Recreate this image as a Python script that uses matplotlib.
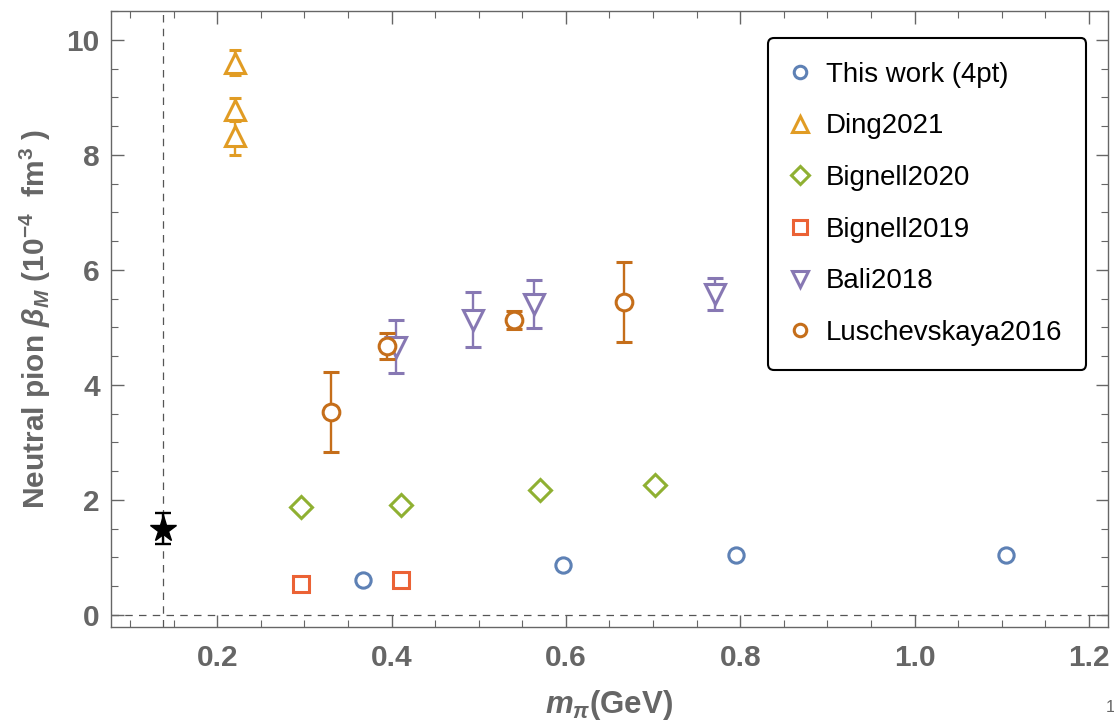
import numpy as np
import matplotlib
matplotlib.use('Agg')
import matplotlib.pyplot as plt
from matplotlib.lines import Line2D
from matplotlib.ticker import MultipleLocator

plt.rcParams['font.family'] = ['Liberation Sans', 'DejaVu Sans']
plt.rcParams['mathtext.fontset'] = 'custom'
plt.rcParams['mathtext.rm'] = 'Liberation Sans:bold'
plt.rcParams['mathtext.it'] = 'Liberation Sans:italic:bold'
plt.rcParams['mathtext.bf'] = 'Liberation Sans:bold'

# ---- data (m_pi in GeV, beta_M in 1e-4 fm^3) ----
this_x = [0.367, 0.597, 0.795, 1.105]
this_y = [0.60, 0.86, 1.04, 1.04]

ding_x = [0.220, 0.220, 0.220]
ding_y = [9.60, 8.78, 8.33]
ding_e = [0.22, 0.20, 0.33]

big20_x = [0.296, 0.411, 0.570, 0.702]
big20_y = [1.88, 1.91, 2.18, 2.25]

big19_x = [0.296, 0.411]
big19_y = [0.54, 0.61]

bali_x = [0.405, 0.493, 0.563, 0.771]
bali_y = [4.66, 5.13, 5.41, 5.58]
bali_e = [0.46, 0.48, 0.42, 0.28]

lus_x = [0.331, 0.395, 0.541, 0.667]
lus_y = [3.53, 4.68, 5.13, 5.44]
lus_e = [0.69, 0.23, 0.16, 0.69]

phys_x = [0.138]
phys_y = [1.50]
phys_e = [0.27]

labels = ['This work (4pt)', 'Ding2021', 'Bignell2020', 'Bignell2019',
          'Bali2018', 'Luschevskaya2016']

C_BLUE = '#5E81B5'
C_ORANGE = '#E19C24'
C_GREEN = '#8FB032'
C_RED = '#EB6235'
C_PURPLE = '#8778B3'
C_BROWN = '#C56E1A'
GRAY = '#666666'

fig = plt.figure(figsize=(11.14, 7.25), dpi=100)
ax = fig.add_axes([0.0996, 0.1352, 0.8950, 0.8496])

ax.axvline(phys_x[0], color='#555555', lw=0.9, ls=(0, (6, 5)), zorder=1)
ax.axhline(0.0, color='#555555', lw=0.9, ls=(0, (6, 5)), zorder=1)

mk = dict(mfc='white', mew=2.2, ls='none')
eb = dict(elinewidth=1.7, capthick=1.7, ls='none', mfc='white', mew=2.2)

ax.plot(this_x, this_y, 'o', color=C_BLUE, ms=11, **mk)
ax.errorbar(ding_x, ding_y, yerr=ding_e, fmt='^', color=C_ORANGE, ms=15,
            capsize=4.5, **eb)
ax.plot(big20_x, big20_y, 'D', color=C_GREEN, ms=11, **mk)
ax.plot(big19_x, big19_y, 's', color=C_RED, ms=11.5, **mk)
ax.errorbar(bali_x, bali_y, yerr=bali_e, fmt='v', color=C_PURPLE, ms=15,
            capsize=6, **eb)
ax.errorbar(lus_x, lus_y, yerr=lus_e, fmt='o', color=C_BROWN, ms=12,
            capsize=6, **eb)
ax.errorbar(phys_x, phys_y, yerr=phys_e, fmt='*', color='black', ms=20,
            capsize=6, elinewidth=1.7, capthick=1.7)

ax.set_xlim(0.078, 1.222)
ax.set_ylim(-0.21, 10.5)

ax.xaxis.set_major_locator(MultipleLocator(0.2))
ax.xaxis.set_minor_locator(MultipleLocator(0.05))
ax.yaxis.set_major_locator(MultipleLocator(2))
ax.yaxis.set_minor_locator(MultipleLocator(0.5))
ax.xaxis.set_major_formatter(plt.FuncFormatter(lambda v, p: f'{v:.1f}'))
ax.yaxis.set_major_formatter(plt.FuncFormatter(lambda v, p: f'{v:.0f}'))

ax.tick_params(which='both', direction='in', top=True, right=True,
               color=GRAY, labelcolor=GRAY)
ax.tick_params(which='major', length=9, width=1.0, labelsize=21.5)
ax.tick_params(axis='x', which='major', pad=12)
ax.tick_params(axis='y', which='major', pad=8)
ax.tick_params(which='minor', length=5, width=0.8)
for lab in ax.get_xticklabels() + ax.get_yticklabels():
    lab.set_fontweight('bold')
for s in ax.spines.values():
    s.set_color(GRAY)
    s.set_linewidth(1.0)

ax.set_xlabel(r'$m_\pi$(GeV)', fontsize=22.5, color=GRAY, fontweight='bold',
              labelpad=12)
ax.set_ylabel(r'Neutral pion $\beta_M$ (10$^{-4}$  fm$^{3}$ )',
              fontsize=21.5, color=GRAY, fontweight='bold', labelpad=10)

handles = [
    Line2D([], [], marker='o', color=C_BLUE, ms=9, **mk),
    Line2D([], [], marker='^', color=C_ORANGE, ms=12, **mk),
    Line2D([], [], marker='D', color=C_GREEN, ms=9, **mk),
    Line2D([], [], marker='s', color=C_RED, ms=10, **mk),
    Line2D([], [], marker='v', color=C_PURPLE, ms=12, **mk),
    Line2D([], [], marker='o', color=C_BROWN, ms=9, **mk),
]
leg = ax.legend(handles, labels, loc='upper right',
                bbox_to_anchor=(0.978, 0.956), borderaxespad=0,
                fontsize=19.9, frameon=True, fancybox=True,
                labelspacing=0.93, handlelength=0.6, handletextpad=0.65,
                borderpad=0.85, numpoints=1)
leg.get_frame().set_edgecolor('black')
leg.get_frame().set_linewidth(1.5)
leg.get_frame().set_alpha(1.0)

fig.text(1106 / 1114, 0.018, '1', fontsize=12, color=GRAY, ha='left')

fig.savefig('out.png', dpi=100)
